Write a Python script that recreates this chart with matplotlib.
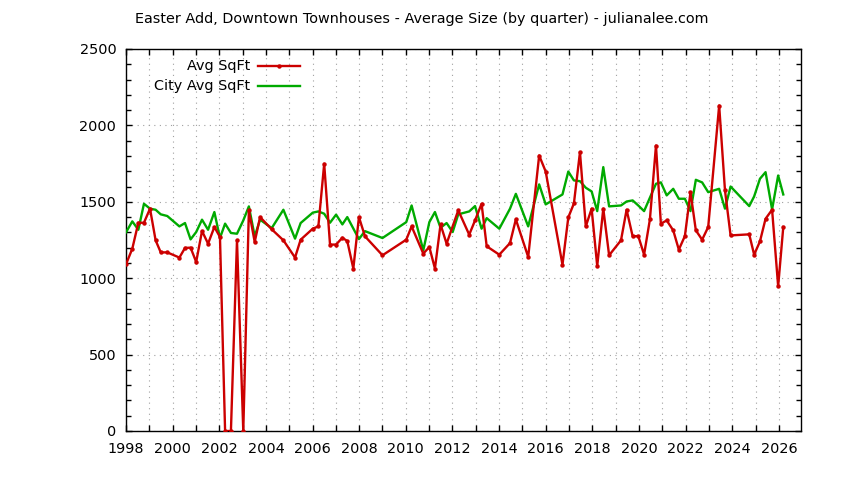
import matplotlib
matplotlib.use("Agg")
import matplotlib.pyplot as plt
from matplotlib.lines import Line2D
from matplotlib.ticker import MultipleLocator, FixedLocator

title = "Easter Add, Downtown Townhouses - Average Size (by quarter) - julianalee.com"

red_dates = [1998.00, 1998.27, 1998.53, 1998.77, 1999.03, 1999.27, 1999.49, 1999.77,
             2000.29, 2000.53, 2000.77, 2001.01, 2001.26, 2001.52, 2001.79, 2002.03,
             2002.25, 2002.50, 2002.76, 2003.03, 2003.27, 2003.52, 2003.75, 2004.25,
             2004.75, 2005.25, 2005.49, 2006.01, 2006.25, 2006.50, 2006.75, 2007.01,
             2007.28, 2007.49, 2007.75, 2007.99, 2008.25, 2009.00, 2010.02, 2010.25,
             2010.75, 2011.01, 2011.25, 2011.49, 2011.75, 2012.25, 2012.72, 2012.97,
             2013.25, 2013.47, 2014.01, 2014.47, 2014.72, 2015.25, 2015.72, 2016.00,
             2016.72, 2016.97, 2017.21, 2017.47, 2017.72, 2017.97, 2018.21, 2018.47,
             2018.72, 2019.23, 2019.47, 2019.73, 2019.97, 2020.22, 2020.47, 2020.73,
             2020.94, 2021.19, 2021.47, 2021.71, 2021.97, 2022.21, 2022.44, 2022.71,
             2022.97, 2023.44, 2023.69, 2023.93, 2024.73, 2024.94, 2025.19, 2025.43,
             2025.71, 2025.97, 2026.19]
avg_sqft = [1091, 1193, 1363, 1363, 1455, 1248, 1169, 1169,
            1135, 1198, 1200, 1106, 1309, 1226, 1335, 1270,
            0, 0, 1248, 0, 1444, 1237, 1400, 1320,
            1248, 1135, 1252, 1324, 1339, 1749, 1220, 1220,
            1265, 1243, 1063, 1400, 1274, 1150, 1252, 1339,
            1161, 1204, 1063, 1352, 1226, 1444, 1285, 1378,
            1487, 1209, 1154, 1230, 1385, 1139, 1803, 1698,
            1088, 1398, 1489, 1825, 1339, 1455, 1080, 1455,
            1150, 1248, 1448, 1274, 1276, 1154, 1385, 1868,
            1357, 1378, 1313, 1187, 1276, 1563, 1313, 1252,
            1335, 2130, 1574, 1280, 1287, 1154, 1241, 1389,
            1448, 947, 1335]

green_dates = [1998.00, 1998.27, 1998.53, 1998.77, 1999.03, 1999.27, 1999.49, 1999.77,
               2000.29, 2000.53, 2000.77, 2001.01, 2001.26, 2001.52, 2001.79, 2002.03,
               2002.25, 2002.50, 2002.76, 2003.03, 2003.27, 2003.52, 2003.75, 2004.25,
               2004.75, 2005.25, 2005.49, 2006.01, 2006.25, 2006.50, 2006.75, 2007.01,
               2007.28, 2007.49, 2007.99, 2008.25, 2009.00, 2010.02, 2010.25, 2010.75,
               2011.01, 2011.25, 2011.49, 2011.75, 2012.01, 2012.25, 2012.72, 2012.97,
               2013.25, 2013.47, 2014.01, 2014.47, 2014.72, 2015.25, 2015.72, 2016.00,
               2016.72, 2016.97, 2017.21, 2017.47, 2017.72, 2017.97, 2018.21, 2018.47,
               2018.72, 2019.23, 2019.47, 2019.73, 2019.97, 2020.22, 2020.47, 2020.73,
               2020.94, 2021.19, 2021.47, 2021.71, 2021.97, 2022.21, 2022.44, 2022.71,
               2022.97, 2023.44, 2023.69, 2023.93, 2024.73, 2024.94, 2025.19, 2025.43,
               2025.71, 2025.97, 2026.19]
city_avg_sqft = [1300, 1372, 1317, 1487, 1455, 1448, 1418, 1407,
                 1339, 1361, 1254, 1302, 1383, 1317, 1433, 1263,
                 1357, 1296, 1291, 1378, 1470, 1274, 1383, 1328,
                 1448, 1259, 1361, 1429, 1437, 1422, 1363, 1416,
                 1352, 1400, 1256, 1308, 1263, 1367, 1476, 1182,
                 1367, 1433, 1330, 1361, 1302, 1418, 1437, 1472,
                 1324, 1393, 1324, 1455, 1552, 1339, 1614, 1483,
                 1548, 1698, 1640, 1635, 1592, 1568, 1439, 1727,
                 1470, 1476, 1502, 1509, 1476, 1439, 1527, 1618,
                 1627, 1542, 1585, 1520, 1520, 1439, 1644, 1627,
                 1563, 1585, 1455, 1600, 1472, 1535, 1651, 1694,
                 1450, 1672, 1548]

year_ticks = list(range(1998, 2027))
year_labels = [str(y) if y % 2 == 0 else "" for y in year_ticks]

RED = "#cc0000"
GREEN = "#00aa00"
FS = 10.4

plt.rcParams['font.family'] = ['DejaVu Sans']
fig = plt.figure(figsize=(8.44, 4.8), dpi=100)
ax = fig.add_axes([126/844, 49/480, (801-126)/844, (431-49)/480])

ax.plot(green_dates, city_avg_sqft, color=GREEN, lw=1.7, zorder=3)
ax.plot(red_dates, avg_sqft, color=RED, lw=1.7, marker='o', ms=3.2,
        markeredgewidth=0, zorder=4)

ax.set_xlim(1998, 2026.95)
ax.set_ylim(0, 2500)
ax.xaxis.set_major_locator(FixedLocator(year_ticks))
ax.set_xticklabels(year_labels)
ax.yaxis.set_major_locator(MultipleLocator(500))
ax.yaxis.set_minor_locator(MultipleLocator(100))
ax.grid(True, which='major', color='#a0a0a0', linestyle=(0, (1, 4)), lw=0.8)
ax.tick_params(which='both', direction='in', top=True, right=True,
               labelsize=FS, colors='black')
ax.tick_params(axis='x', pad=8)
ax.tick_params(axis='y', pad=7)
ax.tick_params(which='major', length=4.3, width=1)
ax.tick_params(which='minor', length=3.3, width=1)
for s in ax.spines.values():
    s.set_linewidth(1)

fig.text(422/844, 1 - 19/480, title, ha='center', va='center', fontsize=FS)

# legend (gnuplot style: right-aligned text, sample to the right)
leg_rows = [("Avg SqFt", RED, True), ("City Avg SqFt", GREEN, False)]
for i, (lab, col, mk) in enumerate(leg_rows):
    yy = 1 - (66 + 20 * i - 49) / 382
    ax.text((250 - 126) / 675, yy, lab, transform=ax.transAxes, ha='right',
            va='center', fontsize=FS)
    ax.add_line(Line2D([(258 - 126) / 675, (300 - 126) / 675], [yy, yy],
                       transform=ax.transAxes, color=col, lw=1.7))
    if mk:
        ax.add_line(Line2D([(279 - 126) / 675], [yy], transform=ax.transAxes,
                           color=col, marker='o', ms=3.2, markeredgewidth=0))

fig.savefig("out.png", dpi=100)
